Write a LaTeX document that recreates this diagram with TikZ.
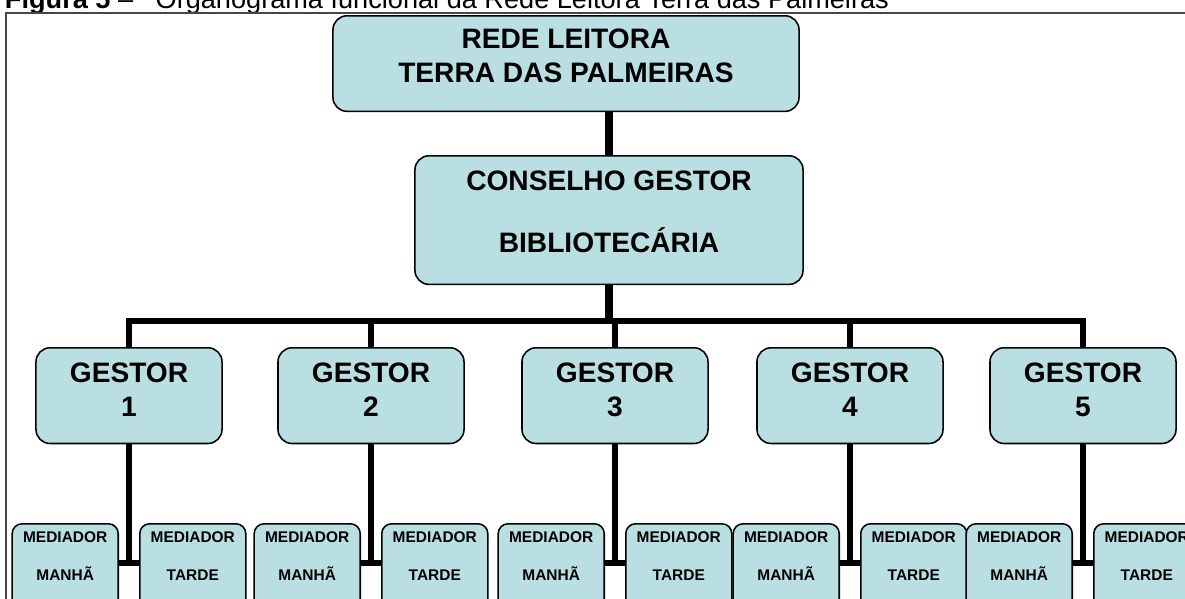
\documentclass[tikz,border=0pt]{standalone}
\usepackage{fontspec}
\setmainfont{Liberation Sans}
\usetikzlibrary{positioning, calc}
\definecolor{Boxcol}{RGB}{185, 223, 226}
\definecolor{Framecol}{RGB}{70, 70, 70}

\begin{document}
\begin{tikzpicture}[
    x=0.025cm, y=-0.025cm,
    every node/.style={align=center},
    orgbox/.style={
        rectangle, rounded corners=10pt,
        draw=black, fill=Boxcol, line width=1.1pt,
        font=\fontsize{20}{24.2}\selectfont\bfseries,
        inner xsep=0pt, inner ysep=10.7pt
    },
    medbox/.style={
        rectangle, rounded corners=7pt,
        draw=black, fill=Boxcol, line width=1.1pt,
        font=\fontsize{11}{27}\selectfont\bfseries,
        minimum width=2.65cm, inner xsep=0pt,
        inner ysep=5.7pt, text depth=22pt
    },
    linkstyle/.style={
        line width=4.5pt,
        color=black
    }
]

    % Area visivel da figura
    \useasboundingbox (0,0) rectangle (1185,599);
    \clip (0,0) rectangle (1185,599);

    % ------------------- TITULO E MOLDURA -------------------
    \node[anchor=base west, font=\fontsize{19.3}{23}\selectfont] (titulo) at (0,8)
        {\textbf{Figura 5} –\hspace{16pt}Organograma funcional da Rede Leitora Terra das Palmeiras};
    \draw[Framecol, line width=1.1pt] (6,13) rectangle (1200,620);

    % ------------------- NIVEL SUPERIOR -------------------
    \node[orgbox, anchor=north, minimum width=11.65cm, inner ysep=9.2pt, text depth=11.4pt]
        (rede) at (566,15) {REDE LEITORA\\TERRA DAS PALMEIRAS};

    \node[orgbox, anchor=north, minimum width=9.7cm, text depth=12.1pt,
        font=\fontsize{20}{44}\selectfont\bfseries]
        (conselho) at (609,155) {CONSELHO GESTOR\\BIBLIOTECÁRIA};

    % ------------------- GESTORES -------------------
    \node[orgbox, anchor=north, minimum width=4.65cm, text depth=8.5pt] (g1) at (129,347) {GESTOR\\1};
    \node[orgbox, anchor=north, minimum width=4.65cm, text depth=8.5pt] (g2) at (371,347) {GESTOR\\2};
    \node[orgbox, anchor=north, minimum width=4.65cm, text depth=8.5pt] (g3) at (615,347) {GESTOR\\3};
    \node[orgbox, anchor=north, minimum width=4.65cm, text depth=8.5pt] (g4) at (850,347) {GESTOR\\4};
    \node[orgbox, anchor=north, minimum width=4.65cm, text depth=8.5pt] (g5) at (1083,347) {GESTOR\\5};

    % ------------------- MEDIADORES -------------------
    % Gestor 1
    \node[medbox, anchor=north east] (mm1) at (119,523) {MEDIADOR\\MANHÃ};
    \node[medbox, anchor=north west] (mt1) at (139,523) {MEDIADOR\\TARDE};
    % Gestor 2
    \node[medbox, anchor=north east] (mm2) at (361,523) {MEDIADOR\\MANHÃ};
    \node[medbox, anchor=north west] (mt2) at (381,523) {MEDIADOR\\TARDE};
    % Gestor 3
    \node[medbox, anchor=north east] (mm3) at (605,523) {MEDIADOR\\MANHÃ};
    \node[medbox, anchor=north west] (mt3) at (625,523) {MEDIADOR\\TARDE};
    % Gestor 4
    \node[medbox, anchor=north east] (mm4) at (840,523) {MEDIADOR\\MANHÃ};
    \node[medbox, anchor=north west] (mt4) at (860,523) {MEDIADOR\\TARDE};
    % Gestor 5
    \node[medbox, anchor=north east] (mm5) at (1073,523) {MEDIADOR\\MANHÃ};
    \node[medbox, anchor=north west] (mt5) at (1093,523) {MEDIADOR\\TARDE};

    % ------------------- LIGACOES -------------------
    \coordinate (barra) at (609,321);
    \draw[linkstyle, line width=5pt] (rede.south -| conselho.north) -- (conselho.north);
    \draw[linkstyle, line width=6pt] (conselho.south) -- (barra);
    \draw[linkstyle] (g1.north) |- (barra) -| (g5.north);
    \draw[linkstyle] (g2.north) -- (g2.north |- barra);
    \draw[linkstyle] (g3.north) -- (g3.north |- barra);
    \draw[linkstyle] (g4.north) -- (g4.north |- barra);

    % Gestor -> mediadores
    \coordinate (m1) at (129,563);
    \coordinate (m2) at (371,563);
    \coordinate (m3) at (615,563);
    \coordinate (m4) at (850,563);
    \coordinate (m5) at (1083,563);
    \draw[linkstyle] (g1.south) -- (m1);
    \draw[linkstyle] (mm1.east |- m1) -- (mt1.west |- m1);
    \draw[linkstyle] (g2.south) -- (m2);
    \draw[linkstyle] (mm2.east |- m2) -- (mt2.west |- m2);
    \draw[linkstyle] (g3.south) -- (m3);
    \draw[linkstyle] (mm3.east |- m3) -- (mt3.west |- m3);
    \draw[linkstyle] (g4.south) -- (m4);
    \draw[linkstyle] (mm4.east |- m4) -- (mt4.west |- m4);
    \draw[linkstyle] (g5.south) -- (m5);
    \draw[linkstyle] (mm5.east |- m5) -- (mt5.west |- m5);
\end{tikzpicture}
\end{document}
